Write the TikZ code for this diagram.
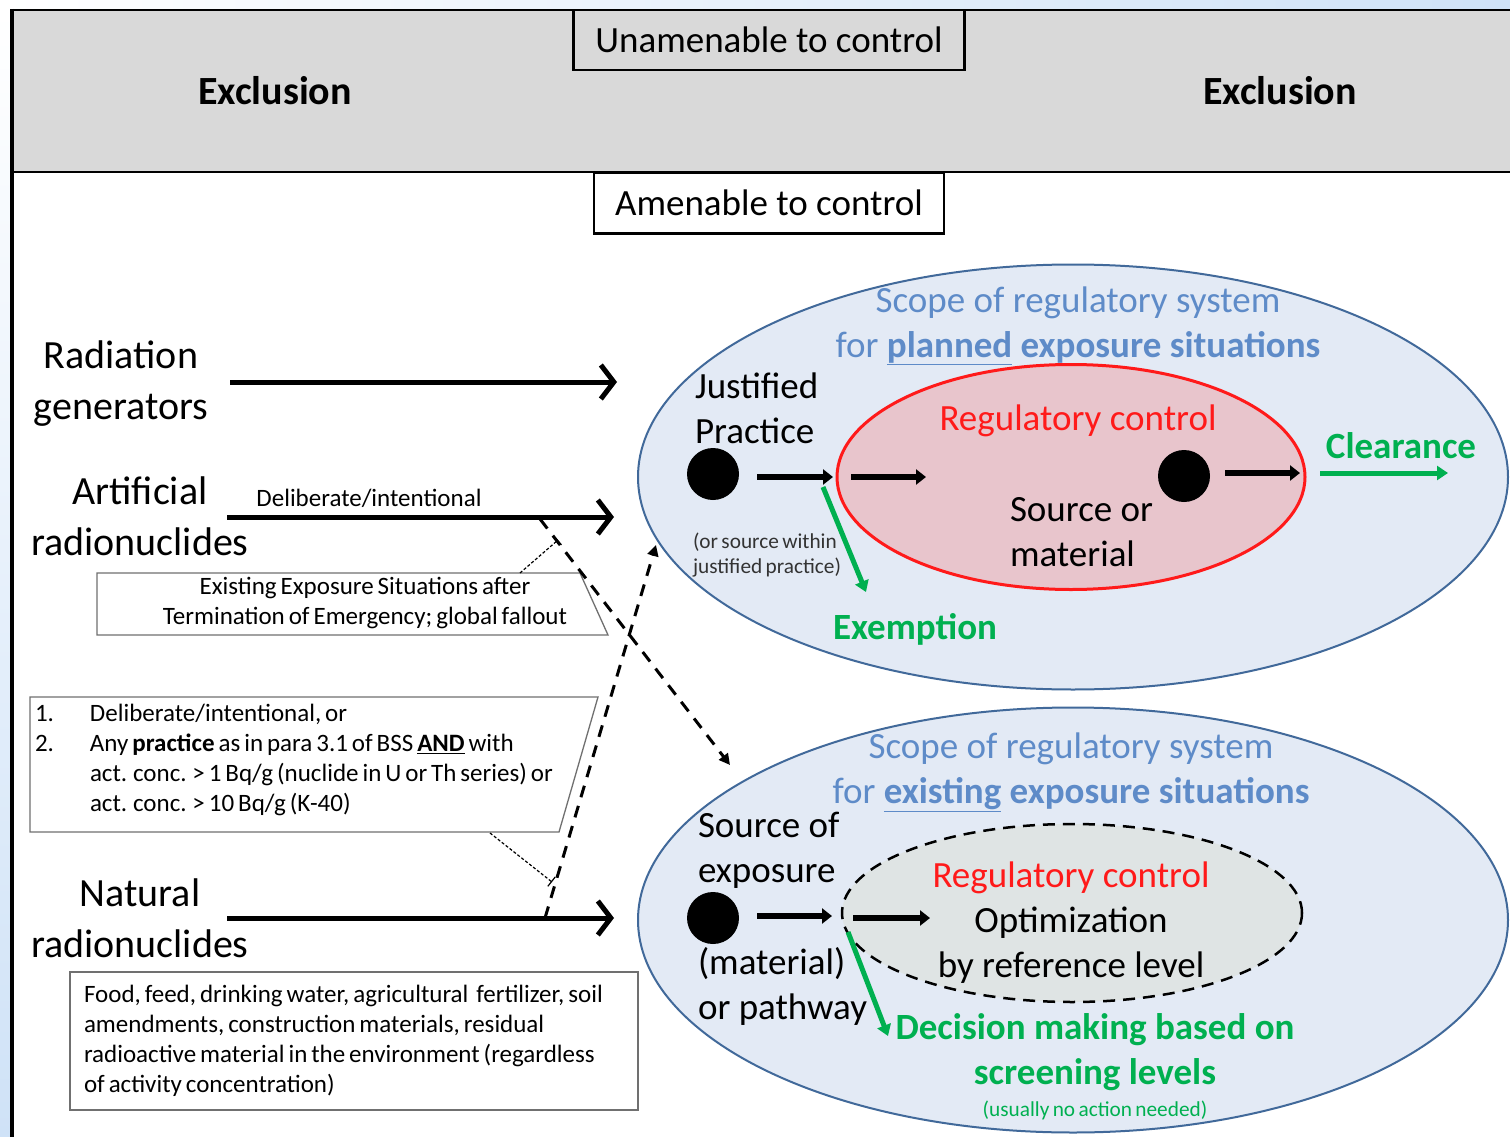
\documentclass[tikz,border=0pt]{standalone}
\usepackage{fontspec}
\setmainfont{Carlito}
\newfontfamily\tightfont{Carlito}[WordSpace=0.7]
\usetikzlibrary{arrows.meta,shapes.geometric}
\definecolor{bgblue}{HTML}{CFE2F7}
\definecolor{band}{HTML}{D9D9D9}
\definecolor{ellfill}{HTML}{E3EAF5}
\definecolor{elldraw}{HTML}{41699A}
\definecolor{scopeblue}{HTML}{5E8BC8}
\definecolor{pinkfill}{HTML}{E8C5CC}
\definecolor{regred}{HTML}{FF1A1A}
\definecolor{grn}{HTML}{00B050}
\definecolor{grayfill}{HTML}{DFE4E4}
\definecolor{boxline}{HTML}{707070}
\begin{document}
\begin{tikzpicture}[x=1pt,y=-1pt,
  every node/.style={inner sep=0pt, outer sep=0pt},
  big/.style={font=\fontsize{40}{51}\selectfont},
  bigb/.style={font=\fontsize{40}{51}\selectfont\bfseries},
  mid/.style={font=\fontsize{37}{45}\selectfont},
  midb/.style={font=\fontsize{37}{45}\selectfont\bfseries},
  small/.style={font=\tightfont\fontsize{25}{30}\selectfont},
  tiny/.style={font=\tightfont\fontsize{21.3}{25}\selectfont},
  bigarrow/.style={line width=5pt, -{Straight Barb[length=13pt,width=34pt,line width=5pt]}},
  blkarrow/.style={line width=6pt, -{Triangle[length=10pt,width=15pt]}},
  grnarrow/.style={grn, line width=5pt, -{Triangle[length=11pt,width=14pt]}},
  dasharrow/.style={line width=3pt, dash pattern=on 12pt off 9pt, -{Triangle[length=11pt,width=11pt]}},
  pointer/.style={line width=1.2pt, densely dashed, -{Bar[width=12pt,line width=1.2pt]}},
  dot/.style={circle, fill=black, minimum size=52pt},
  callout/.style={draw=boxline, line width=1.3pt, fill=white},
]
\useasboundingbox (0,0) rectangle (1510,1137);
% background
\fill[bgblue] (0,0) rectangle (1510,1137);
\shade[left color=white, right color=bgblue] (0,0) rectangle (1510,10);
\shade[top color=white, bottom color=bgblue] (0,10) rectangle (12,1137);
\fill[white] (12,10) rectangle (1510,1137);
% exclusion band
\draw[line width=2.5pt, fill=band] (12,10) rectangle (1514,172);
\draw[line width=4pt] (12,9) -- (12,1137);
\node[draw, line width=2.5pt, fill=band, minimum width=391pt, minimum height=60pt, mid] (unam) at (769,40) {Unamenable to control};
\node[draw, line width=2.5pt, fill=white, minimum width=350pt, minimum height=61pt, mid] (amen) at (769,203) {Amenable to control};
\node[bigb] (exl) at (275,91) {Exclusion};
\node[bigb] (exr) at (1280,91) {Exclusion};

% left labels
\node[big, align=center] (radgen) at (121,384) {Radiation\\generators};
\node[big, align=center] (art) at (140,516) {Artificial\\radionuclides};
\node[big, align=center] (nat) at (140,918) {Natural\\radionuclides};
\node[small] (delib) at (369,498) {Deliberate/intentional};

\coordinate (a1s) at (230,382); \coordinate (a1e) at (617,382);
\coordinate (a2s) at (227,517); \coordinate (a2e) at (614,517);
\coordinate (a3s) at (227,918); \coordinate (a3e) at (614,918);
\draw[bigarrow] (a1s) -- (a1e);
\draw[bigarrow] (a2s) -- (a2e);
\draw[bigarrow] (a3s) -- (a3e);

% callout 1
\draw[callout] (97,573) -- (580,573) -- (608,635) -- (97,635) -- cycle;
\node[small, align=center] (ces) at (365,603) {Existing Exposure Situations after\\Termination of Emergency; global fallout};
% callout 2
\draw[callout] (30,697) -- (598,697) -- (559,832) -- (30,832) -- cycle;
\node[small, align=left, anchor=north west] (c2) at (35,704) {\makebox[55pt][l]{1.}Deliberate/intentional, or\\
\makebox[55pt][l]{2.}Any \textbf{practice} as in para 3.1 of BSS \underline{\textbf{AND}} with\\
\hspace*{55pt}act. conc. > 1 Bq/g (nuclide in U or Th series) or\\
\hspace*{55pt}act. conc. > 10 Bq/g (K-40)};
% callout 3
\node[callout, minimum width=568pt, minimum height=138pt] (foodbox) at (354,1041) {};
\node[small, align=left, anchor=west] (food) at (84,1041) {Food, feed, drinking water, agricultural~~fertilizer, soil\\amendments, construction materials, residual\\radioactive material in the environment (regardless\\of activity concentration)};

% pointers and dashed arrows
\coordinate (p1s) at (520,573); \coordinate (p1e) at (558,540);
\coordinate (p2s) at (490,833); \coordinate (p2e) at (552,882);
\draw[pointer] (p1s) -- (p1e);
\draw[pointer] (p2s) -- (p2e);
\coordinate (d1s) at (540,519); \coordinate (d1e) at (730,765);
\coordinate (d2s) at (545,918); \coordinate (d2e) at (656,545);
\draw[dasharrow] (d1s) -- (d1e);
\draw[dasharrow] (d2s) -- (d2e);

% planned exposure ellipse
\node[ellipse, draw=elldraw, line width=2pt, fill=ellfill, minimum width=870pt, minimum height=425pt] (planned) at (1073,477) {};
\node[mid, text=scopeblue, align=center] (ptitle) at (1078,326) {Scope of regulatory system\\for \textbf{\underline{planned} exposure situations}};
\node[mid, align=left, anchor=west] (just) at (695,408) {Justified\\Practice};
\node[tiny, align=left, anchor=west, text=black!80] (orsrc) at (693,555) {(or source within\\justified practice)};
\node[ellipse, draw=regred, line width=3pt, fill=pinkfill, minimum width=468pt, minimum height=225pt] (regp) at (1071,477) {};
\node[mid, text=regred] (rc1) at (1078,421) {Regulatory control};
\node[mid, align=left, anchor=west] (srcmat) at (1010,532) {Source or\\material};
\node[dot] (pd1) at (713,474) {};
\node[dot] (pd2) at (1184,476) {};
\coordinate (b1s) at (757,477); \coordinate (b1e) at (833,477);
\coordinate (b2s) at (851,477); \coordinate (b2e) at (926,477);
\coordinate (b3s) at (1225,473); \coordinate (b3e) at (1300,473);
\draw[blkarrow] (b1s) -- (b1e);
\draw[blkarrow] (b2s) -- (b2e);
\draw[blkarrow] (b3s) -- (b3e);
\coordinate (g1s) at (1320,473); \coordinate (g1e) at (1448,473);
\draw[grnarrow] (g1s) -- (g1e);
\node[midb, text=grn] (clear) at (1401,446) {Clearance};
\coordinate (g2s) at (823,487); \coordinate (g2e) at (866,592);
\draw[grnarrow] (g2s) -- (g2e);
\node[midb, text=grn] (exempt) at (915,629) {Exemption};

% existing exposure ellipse
\node[ellipse, draw=elldraw, line width=2pt, fill=ellfill, minimum width=870pt, minimum height=425pt] (existing) at (1073,920) {};
\node[mid, text=scopeblue, align=center] (etitle) at (1071,772) {Scope of regulatory system\\for \textbf{\underline{existing} exposure situations}};
\node[mid, align=left, anchor=west] (srcexp) at (698,850) {Source of\\exposure};
\node[mid, align=left, anchor=west] (matpath) at (698,986) {(material)\\or pathway};
\node[ellipse, draw, dash pattern=on 12pt off 8pt, line width=2.5pt, fill=grayfill, minimum width=460pt, minimum height=178pt] (regx) at (1072,913) {};
\node[mid, text=regred] (rc2) at (1071,878) {Regulatory control};
\node[mid] (optim) at (1071,923) {Optimization};
\node[mid] (reflev) at (1071,968) {by reference level};
\node[dot] (ed1) at (713,918) {};
\coordinate (c1s) at (757,916); \coordinate (c1e) at (832,916);
\coordinate (c2s) at (853,918); \coordinate (c2e) at (930,918);
\draw[blkarrow] (c1s) -- (c1e);
\draw[blkarrow] (c2s) -- (c2e);
\coordinate (g3s) at (848,932); \coordinate (g3e) at (888,1036);
\draw[grnarrow] (g3s) -- (g3e);
\node[midb, text=grn, align=center] (decis) at (1095,1052) {Decision making based on\\screening levels};
\node[tiny, text=grn] (noact) at (1095,1110) {(usually no action needed)};
\end{tikzpicture}
\end{document}
